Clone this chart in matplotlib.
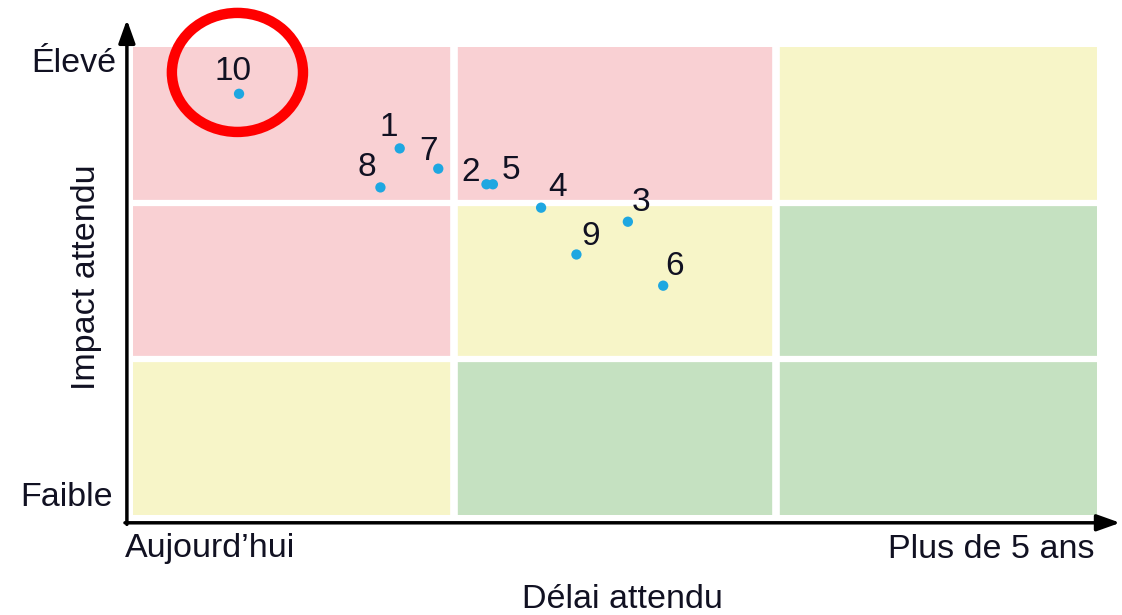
import matplotlib.pyplot as plt
from matplotlib.patches import Rectangle, Ellipse

plt.rcParams['font.family'] = ['Liberation Sans', 'DejaVu Sans']

# risk items: delay (x, 0..3) and impact (y, 0..3)
ids = ['10', '1', '7', '8', '2', '5', '4', '3', '9', '6']
delay = [0.33, 0.83, 0.95, 0.77, 1.10, 1.12, 1.27, 1.54, 1.38, 1.65]
impact = [2.70, 2.35, 2.22, 2.10, 2.12, 2.12, 1.97, 1.88, 1.67, 1.47]

# zone colours, bottom row first
zones = [['y', 'g', 'g'],
         ['p', 'y', 'g'],
         ['p', 'p', 'y']]
zone_colors = {'p': '#F9D0D3', 'y': '#F7F5C8', 'g': '#C5E1C1'}

x_ticks = ['Aujourd\u2019hui', 'Plus de 5 ans']
y_ticks = ['Faible', '\u00c9lev\u00e9']

# label offsets in pixels (dx, dy)
label_offsets = {'10': (-6, 22), '1': (-11, 21), '7': (-10, 17), '8': (-14, 20),
                 '2': (-16, 12), '5': (18, 14), '4': (16, 20), '3': (13, 19),
                 '9': (14, 18), '6': (11, 19)}

W, H = 1122, 615
fig = plt.figure(figsize=(W / 100, H / 100), dpi=100)
ax = fig.add_axes([133 / W, (H - 515) / H, (1097 - 133) / W, (515 - 47) / H])
ax.set_xlim(0, 3)
ax.set_ylim(0, 3)
ax.axis('off')

for r, row in enumerate(zones):
    for c, key in enumerate(row):
        ax.add_patch(Rectangle((c, r), 1, 1, facecolor=zone_colors[key],
                               edgecolor='none', zorder=0))
for v in (1, 2):
    ax.axvline(v, color='white', lw=5.5, zorder=1)
    ax.axhline(v, color='white', lw=4.5, zorder=1)

# axes arrows
ax.annotate('', xy=(3.072, -0.05), xytext=(-0.025, -0.05),
            arrowprops=dict(arrowstyle='-|>,head_length=1.4,head_width=0.5',
                            color='black', lw=2.5, shrinkA=0, shrinkB=0),
            annotation_clip=False)
ax.annotate('', xy=(-0.019, 3.175), xytext=(-0.019, -0.06),
            arrowprops=dict(arrowstyle='-|>,head_length=1.4,head_width=0.5',
                            color='black', lw=2.5, shrinkA=0, shrinkB=0),
            annotation_clip=False)

ax.scatter(delay, impact, s=55, color='#1EA7E1', edgecolors='none', zorder=3)
txt_color = '#111122'
for name, x, y in zip(ids, delay, impact):
    dx, dy = label_offsets[name]
    ax.annotate(name, (x, y), xytext=(dx, dy), textcoords='offset pixels',
                ha='center', va='center', fontsize=24, color=txt_color, zorder=4)

# highlight circle around item 10
ax.add_patch(Ellipse((0.325, 2.837), 0.408, 0.763, facecolor='none',
                     edgecolor='#FF0000', lw=7.5, clip_on=False, zorder=5))

fs = 24.5
fig.text(113 / W, 1 - 498 / H, y_ticks[0], ha='right', va='center', fontsize=fs, color=txt_color)
fig.text(116 / W, 1 - 63 / H, y_ticks[1], ha='right', va='center', fontsize=fs, color=txt_color)
fig.text(125 / W, 1 - 549 / H, x_ticks[0], ha='left', va='center', fontsize=fs, color=txt_color)
fig.text(1094 / W, 1 - 549 / H, x_ticks[1], ha='right', va='center', fontsize=fs, color=txt_color)
fig.text(622 / W, 1 - 599 / H, 'D\u00e9lai attendu', ha='center', va='center', fontsize=fs, color=txt_color)
fig.text(87 / W, 1 - 277 / H, 'Impact attendu', ha='center', va='center', rotation=90,
         fontsize=fs, color=txt_color)

fig.savefig('out.png', dpi=100, facecolor='white')
